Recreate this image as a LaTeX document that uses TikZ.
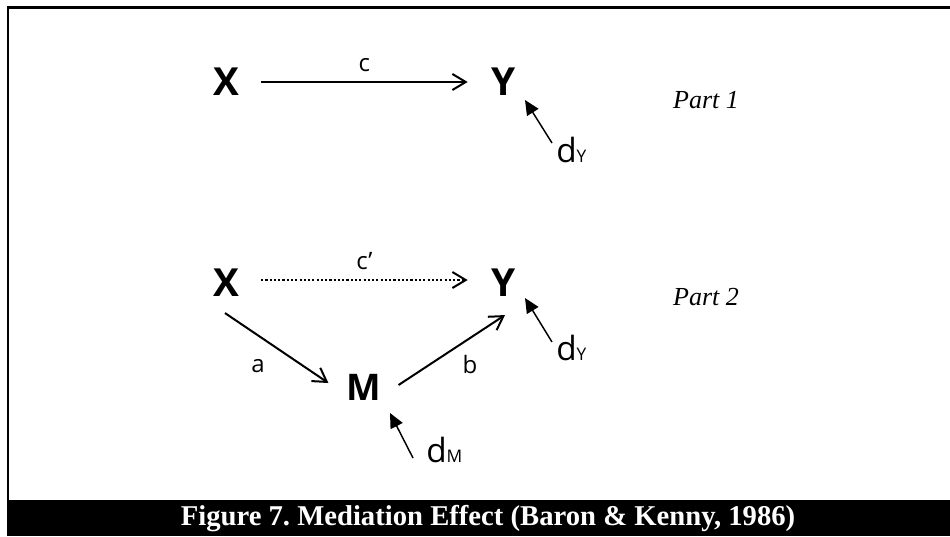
\documentclass[tikz,border=0pt]{standalone}
\usepackage{fontspec}
\setmainfont{Open Sans}
\newfontfamily\serif{Liberation Serif}
\usetikzlibrary{arrows.meta,calc}
\frenchspacing
\begin{document}
\begin{tikzpicture}[x=0.75pt,y=-0.75pt,
  var/.style={font=\bfseries\fontsize{29}{30}\selectfont, inner sep=0pt},
  varm/.style={font=\bfseries\fontsize{27.5}{28}\selectfont, inner sep=0pt},
  lab/.style={font=\fontsize{18}{19}\selectfont, inner sep=0pt},
  dlab/.style={font=\fontsize{25}{26}\selectfont, inner sep=0pt, anchor=base west},
  part/.style={font=\serif\itshape\fontsize{19.5}{21}\selectfont, inner sep=0pt},
  arr/.style={line width=1.5pt, -{Straight Barb[length=10pt,width=12pt,line width=1.5pt]}},
  dotarr/.style={arr, line width=1.8pt, dash pattern=on 1.6pt off 1.6pt},
  dist/.style={line width=1.1pt, -{Triangle[length=11pt,width=10pt]}}]
\useasboundingbox (0,0) rectangle (950,536);
% frame and caption bar
\draw[line width=2pt] (8,500) -- (8,7.5) -- (951,7.5);
\fill[black] (7,500) rectangle (950,536);
\node[font=\serif\bfseries\fontsize{21.5}{23}\selectfont, text=white, inner sep=0pt] (cap) at (488,519) {Figure 7. Mediation Effect (Baron \& Kenny, 1986)};
% Part 1
\node[var] (X1) at (226,82) {X};
\node[var] (Y1) at (504,82) {Y};
\node[part] (P1) at (706,100) {Part 1};
\draw[arr] ($(X1.east)+(22,0)$) -- node[lab, above=7pt] (c1) {c} ($(Y1.west)+(-24,0)$);
\node[dlab] (dY1) at (556,162) {d{\fontsize{13}{14}\selectfont Y}};
\coordinate (dY1tail) at (552,143);
\coordinate (dY1tip) at (525,100);
\draw[dist] (dY1tail) -- (dY1tip);
% Part 2
\node[var] (X2) at (226,283) {X};
\node[var] (Y2) at (504,283) {Y};
\node[varm] (M) at (364,387) {M};
\node[part] (P2) at (706,297) {Part 2};
\draw[dotarr] ($(X2.east)+(22,-3)$) -- node[lab, above=7pt] (c2) {c’} ($(Y2.west)+(-24,-3)$);
\draw[arr] ($(X2.south)+(-1,16)$) -- ($(M.west)+(-18,-4)$);
\node[lab] (a) at (258,366) {a};
\draw[arr] ($(M.east)+(17,-2)$) -- ($(Y2.south)+(1,18)$);
\node[lab] (b) at (470,364) {b};
\node[dlab] (dY2) at (556,360) {d{\fontsize{13}{14}\selectfont Y}};
\coordinate (dY2tail) at (552,342);
\coordinate (dY2tip) at (525,298);
\draw[dist] (dY2tail) -- (dY2tip);
\node[dlab] (dM) at (426,462) {d{\fontsize{13}{14}\selectfont M}};
\coordinate (dMtail) at (413,458);
\coordinate (dMtip) at (390,413);
\draw[dist] (dMtail) -- (dMtip);
\end{tikzpicture}
\end{document}
